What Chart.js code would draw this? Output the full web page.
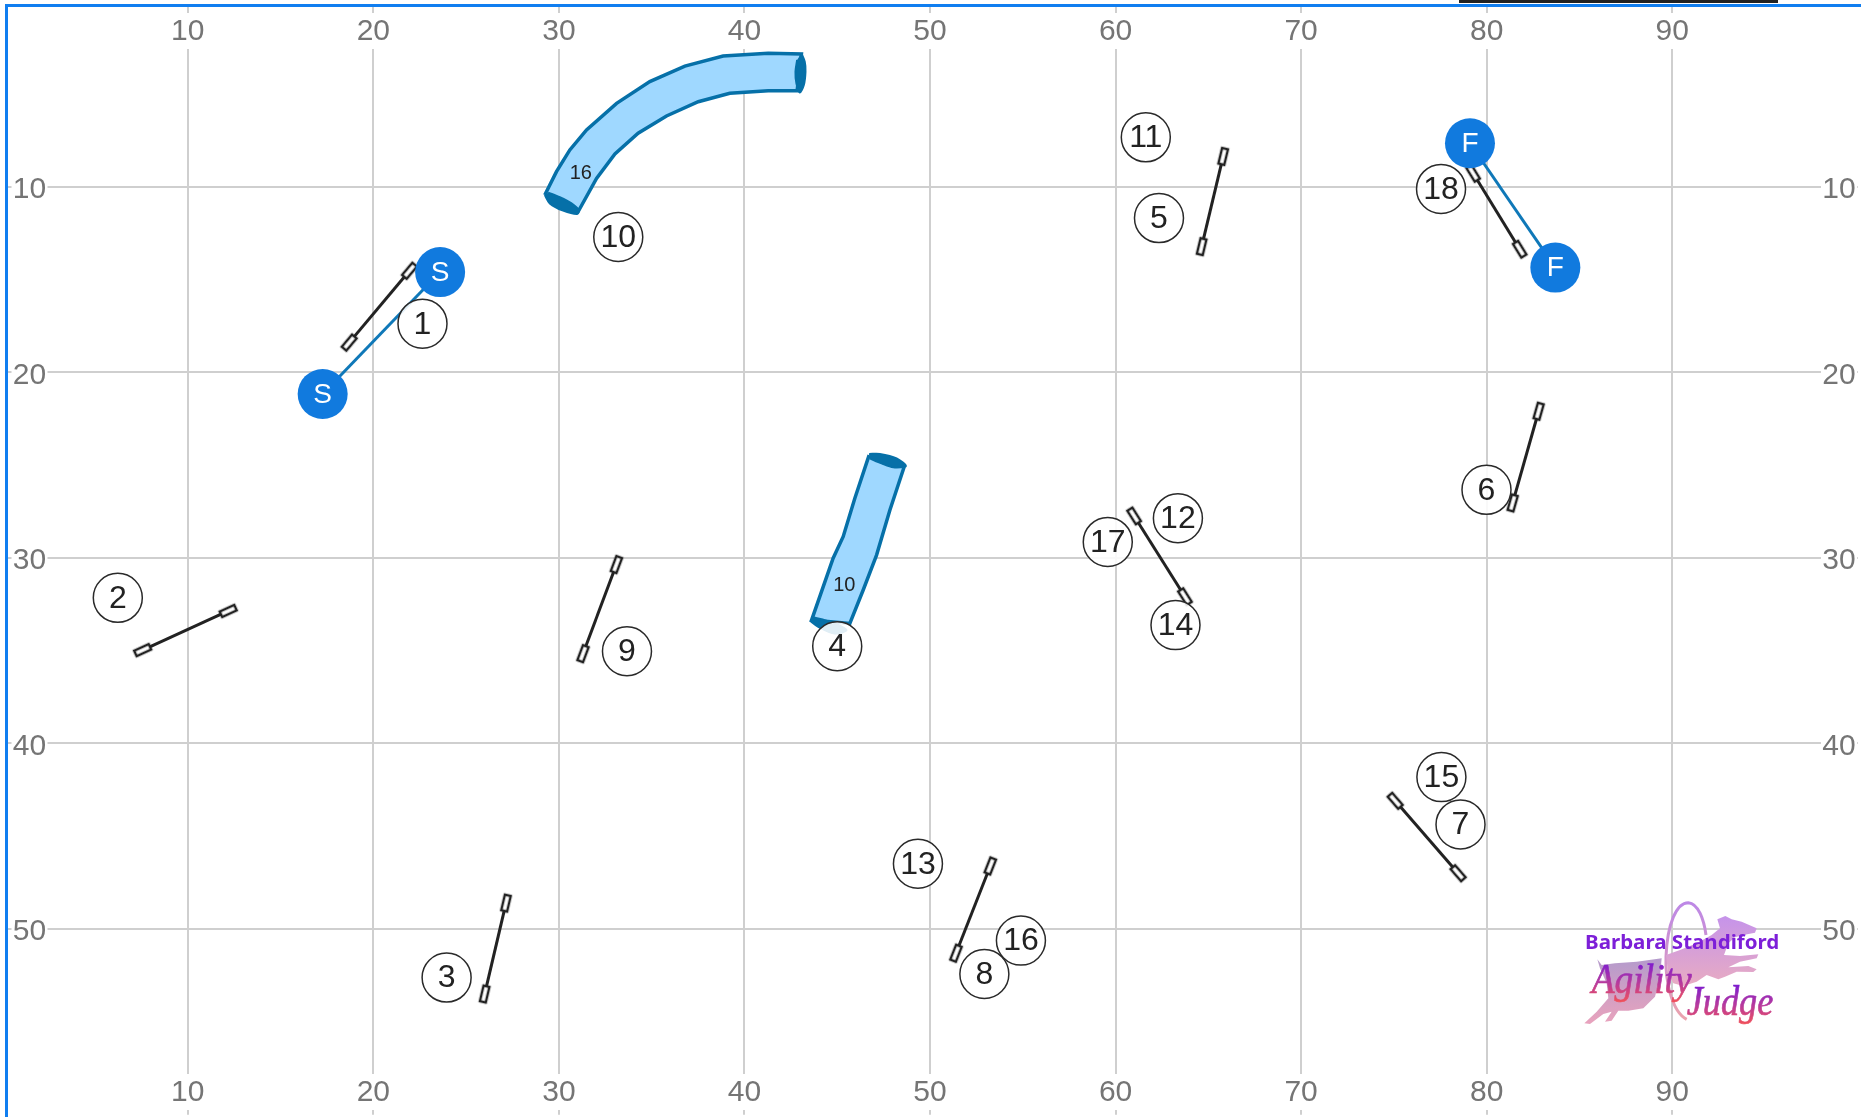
<!DOCTYPE html>
<html>
<head>
<meta charset="utf-8">
<title>Course map</title>
<script src="https://cdn.jsdelivr.net/npm/chart.js@4/dist/chart.umd.js"></script>
<style>
  html, body { margin: 0; padding: 0; background: #fff; width: 1861px; height: 1117px; overflow: hidden; }
  #frame { position: absolute; left: 5px; top: 4px; width: 1853px; height: 1112px; border: solid #107ef0; border-width: 3px 3px 0 3px; border-bottom: 1px solid #e8f2fd; overflow: hidden; }
  #frame canvas { position: absolute; left: -8px; top: -7px; }
  #topbar { position: absolute; left: 1459px; top: 0; width: 319px; height: 3px; background: #222; }
  #logo { position: absolute; left: 1540px; top: 880px; width: 321px; height: 237px; pointer-events: none; }
</style>
</head>
<body>
<div id="frame"><canvas id="course" width="1861" height="1117"></canvas></div>
<div id="topbar"></div>
<svg id="logo" viewBox="0 0 963 711">
  <defs>
    <linearGradient id="dogFront" x1="0" y1="0" x2="0" y2="1"><stop offset="0" stop-color="#c593ea"/><stop offset="1" stop-color="#e8acc2"/></linearGradient>
    <linearGradient id="dogRear" x1="0" y1="0" x2="0" y2="1"><stop offset="0" stop-color="#b49bcc"/><stop offset="1" stop-color="#e9a3bd"/></linearGradient>
    <linearGradient id="hoop" gradientUnits="userSpaceOnUse" x1="0" y1="68" x2="0" y2="418"><stop offset="0" stop-color="#bd88e6"/><stop offset="1" stop-color="#eba3ad"/></linearGradient>
    <linearGradient id="script" x1="0" y1="0" x2="0" y2="1"><stop offset="0" stop-color="#6a12e0"/><stop offset="0.6" stop-color="#b83a9c"/><stop offset="1" stop-color="#f0505a"/></linearGradient>
  </defs>
  <path d="M440,418 C395,395 375,300 378,230 C382,130 410,68 445,68 C475,70 492,120 498,165" fill="none" stroke="url(#hoop)" stroke-width="9"/>
  <path d="M532,118 L556,108 L575,118 L605,125 L650,145 L645,158 L610,165 L585,172 L565,190 L552,225 L600,228 L655,223 L650,235 L600,245 L565,262 L625,258 L650,268 L640,276 L590,275 L555,290 L535,298 L500,285 L470,305 L430,318 L400,310 L385,285 L378,225 L420,210 L470,190 L515,165 L540,145 Z" fill="url(#dogFront)"/>
  <path d="M172,238 L185,255 L225,250 L290,245 L365,235 L360,290 L345,350 L310,385 L265,392 L235,392 L215,422 L195,425 L215,395 L190,402 L150,432 L133,430 L170,395 L205,355 L200,310 L180,265 Z" fill="url(#dogRear)"/>
  <text x="135" y="208" font-family="'Noto Sans'" font-weight="700" font-size="60" fill="#7d1fd8" textLength="583" lengthAdjust="spacingAndGlyphs">Barbara Standiford</text>
  <text x="155" y="338" font-family="'Liberation Serif'" font-style="italic" font-size="125" stroke="url(#script)" stroke-width="2" fill="url(#script)" textLength="300" lengthAdjust="spacingAndGlyphs">Agility</text>
  <text x="440" y="405" font-family="'Liberation Serif'" font-style="italic" font-size="125" stroke="url(#script)" stroke-width="2" fill="url(#script)" textLength="260" lengthAdjust="spacingAndGlyphs">Judge</text>
</svg>
<script>
// tick labels
const xTicks = [10, 20, 30, 40, 50, 60, 70, 80, 90];
const yTicks = [10, 20, 30, 40, 50];

// jumps (start and end of each bar)
const jumpStartX = [18.7, 7.57, 26.0, 64.64, 81.4, 78.46, 51.4, 31.3, 61.0, 79.27];
const jumpStartY = [18.4, 34.97, 53.5, 13.23, 27.04, 46.99, 51.3, 35.16, 27.74, 9.28];
const jumpEndX = [21.95, 12.18, 27.15, 65.8, 82.8, 75.07, 53.25, 33.1, 63.74, 81.78];
const jumpEndY = [14.53, 32.86, 48.6, 8.37, 22.1, 43.09, 46.6, 30.36, 32.09, 13.37];

// start and finish markers
const startX = [23.6, 17.27];
const startY = [14.6, 21.17];
const finishX = [79.1, 83.7];
const finishY = [7.66, 14.36];

// numbered badges
const badgeLabels = ['1', '2', '3', '4', '5', '6', '7', '8', '9', '10', '11', '12', '13', '14', '15', '16', '17', '18'];
const badgeX = [22.65, 6.23, 23.95, 45.0, 62.34, 79.99, 78.59, 52.93, 33.67, 33.2, 61.63, 63.36, 49.35, 63.23, 77.56, 54.9, 59.58, 77.54];
const badgeY = [17.38, 32.15, 52.61, 34.76, 11.69, 26.33, 44.36, 52.42, 35.03, 12.71, 7.34, 27.86, 46.48, 33.62, 41.81, 50.62, 29.14, 10.12];

// curved tunnel outline
const tunnelAX = [29.24, 29.87, 30.59, 31.49, 33.11, 34.9, 36.79, 38.85, 41.28, 43.07, 42.84, 41.28, 39.21, 37.51, 35.8, 34.27, 33.02, 32.03, 30.99];
const tunnelAY = [10.45, 9.19, 8.02, 6.94, 5.51, 4.34, 3.5, 2.96, 2.81, 2.85, 4.83, 4.83, 4.97, 5.42, 6.19, 7.12, 8.24, 9.55, 11.43];
const tunnelAEndX = [43.07, 43.25, 43.29, 43.2, 42.98, 42.8, 42.75, 42.84];
const tunnelAEndY = [2.81, 3.26, 3.8, 4.52, 4.93, 4.43, 3.8, 3.17];
const tunnelAMouthX = [29.24, 29.51, 30.23, 30.99, 31.06, 30.68, 30.05, 29.42];
const tunnelAMouthY = [10.45, 10.9, 11.29, 11.47, 11.25, 10.9, 10.57, 10.32];

// straight tunnel outline
const tunnelBX = [46.72, 45.95, 45.32, 44.78, 43.62, 45.68, 46.4, 47.12, 47.84, 48.61];
const tunnelBY = [24.46, 26.79, 28.86, 30.02, 33.35, 33.53, 31.73, 29.85, 27.42, 25.09];
const tunnelBEndX = [46.72, 47.3, 48.2, 48.7, 48.02, 47.39, 46.76];
const tunnelBEndY = [24.4, 24.4, 24.64, 25.05, 25.12, 24.91, 24.64];
const tunnelBMouthX = [43.53, 43.98, 44.87, 45.5, 44.87, 44.15, 43.71];
const tunnelBMouthY = [33.38, 33.71, 34.07, 33.89, 33.53, 33.31, 33.2];

// tunnel length labels
const tunnelLabels = ['16', '10'];
const tunnelLabelX = [31.18, 45.38];
const tunnelLabelY = [9.27, 31.5];

const pts = (xs, ys) => xs.map((x, i) => ({ x: x, y: ys[i] }));

// little white wing at the end of a jump bar
function makeCap() {
  const c = document.createElement('canvas');
  c.width = 26;
  c.height = 26;
  const g = c.getContext('2d');
  g.fillStyle = '#fff';
  g.strokeStyle = '#222';
  g.lineWidth = 2.5;
  g.fillRect(5, 10, 16, 6);
  g.strokeRect(5, 10, 16, 6);
  return c;
}
const cap = makeCap();

function tunnelSet(xs, ys) {
  return { data: pts(xs, ys), showLine: true, fill: 'shape', backgroundColor: '#9fd8ff', borderColor: '#0670a8', borderWidth: 3.5, pointRadius: 0 };
}
function tunnelEndSet(xs, ys) {
  return { data: pts(xs, ys), showLine: true, fill: 'shape', tension: 0.3, backgroundColor: '#0670a8', borderColor: '#0670a8', borderWidth: 2, pointRadius: 0 };
}
function markerSet(xs, ys) {
  return { data: pts(xs, ys), showLine: true, borderColor: '#0f78b8', borderWidth: 3, pointRadius: 25, pointBackgroundColor: '#117ade', pointBorderColor: '#117ade', pointBorderWidth: 0 };
}

const jumpSets = jumpStartX.map((x, i) => {
  const angle = Math.atan2(jumpEndY[i] - jumpStartY[i], jumpEndX[i] - x) * 180 / Math.PI;
  return {
    data: [{ x: x, y: jumpStartY[i] }, { x: jumpEndX[i], y: jumpEndY[i] }],
    showLine: true,
    borderColor: '#222',
    borderWidth: 3,
    pointStyle: cap,
    pointRadius: 10,
    pointRotation: angle,
  };
});

// first dataset ends up on top
const datasets = [
  { data: pts(badgeX, badgeY), pointRadius: 24.5, pointBackgroundColor: 'rgba(255,255,255,0.88)', pointBorderColor: '#2a2a2a', pointBorderWidth: 1.5, showLine: false },
  markerSet(startX, startY),
  markerSet(finishX, finishY),
  ...jumpSets,
  tunnelEndSet(tunnelAEndX, tunnelAEndY),
  tunnelEndSet(tunnelAMouthX, tunnelAMouthY),
  tunnelSet(tunnelAX, tunnelAY),
  tunnelEndSet(tunnelBEndX, tunnelBEndY),
  tunnelEndSet(tunnelBMouthX, tunnelBMouthY),
  tunnelSet(tunnelBX, tunnelBY),
];

// axis numbers sit inside the plot on all four sides, over a white patch
const insideTicks = {
  id: 'insideTicks',
  beforeDatasetsDraw(chart) {
    const ctx = chart.ctx;
    const sx = chart.scales.x;
    const sy = chart.scales.y;
    ctx.save();
    ctx.font = '30px "Liberation Sans"';
    ctx.textAlign = 'center';
    ctx.textBaseline = 'middle';
    const put = (text, x, y) => {
      ctx.fillStyle = '#fff';
      ctx.fillRect(x - 18, y - 18, 36, 36);
      ctx.fillStyle = '#757575';
      ctx.fillText(text, x, y + 1);
    };
    sx.ticks.forEach((t) => {
      const x = sx.getPixelForValue(t.value);
      put(t.label, x, 31);
      put(t.label, x, 1092);
    });
    sy.ticks.forEach((t) => {
      const y = sy.getPixelForValue(t.value) + 2;
      put(t.label, 29.5, y);
      put(t.label, 1839, y);
    });
    ctx.restore();
  },
};

// numbers and letters on top of the marks
const courseText = {
  id: 'courseText',
  afterDatasetsDraw(chart) {
    const ctx = chart.ctx;
    const sx = chart.scales.x;
    const sy = chart.scales.y;
    ctx.save();
    ctx.textAlign = 'center';
    ctx.textBaseline = 'middle';
    ctx.fillStyle = '#222';
    ctx.font = '20px "Liberation Sans"';
    tunnelLabels.forEach((t, i) => {
      ctx.fillText(t, sx.getPixelForValue(tunnelLabelX[i]), sy.getPixelForValue(tunnelLabelY[i]));
    });
    ctx.font = '32px "Liberation Sans"';
    badgeLabels.forEach((t, i) => {
      ctx.fillText(t, sx.getPixelForValue(badgeX[i]), sy.getPixelForValue(badgeY[i]) + 1);
    });
    ctx.fillStyle = '#fff';
    ctx.font = '28px "Liberation Sans"';
    startX.forEach((x, i) => ctx.fillText('S', sx.getPixelForValue(x), sy.getPixelForValue(startY[i]) + 1));
    finishX.forEach((x, i) => ctx.fillText('F', sx.getPixelForValue(x), sy.getPixelForValue(finishY[i]) + 1));
    ctx.restore();
  },
};

// axes take no room, the numbers are drawn by insideTicks
function noRoom(s) {
  if (s.isHorizontal()) s.height = 0;
  else s.width = 0;
  s.paddingLeft = 0;
  s.paddingRight = 0;
  s.paddingTop = 0;
  s.paddingBottom = 0;
}
const useTicks = (list) => (s) => { s.ticks = list.map((v) => ({ value: v, label: String(v) })); };

function axisOpts(min, max, list, position) {
  return {
    type: 'linear',
    min: min,
    max: max,
    position: position,
    afterBuildTicks: useTicks(list),
    afterFit: noRoom,
    border: { display: false },
    grid: { color: '#cfcfcf', lineWidth: 2, drawTicks: false },
    ticks: { display: false },
  };
}

new Chart(document.getElementById('course'), {
  type: 'scatter',
  data: { datasets: datasets },
  options: {
    responsive: false,
    animation: false,
    devicePixelRatio: 1,
    layout: { autoPadding: false, padding: { left: 2.2, top: 1.1, right: 3.2, bottom: 2.3 } },
    plugins: { legend: { display: false }, tooltip: { enabled: false } },
    scales: {
      x: axisOpts(0, 100, xTicks, 'top'),
      y: Object.assign(axisOpts(0, 60, yTicks, 'left'), { reverse: true }),
    },
  },
  plugins: [insideTicks, courseText],
});
</script>
</body>
</html>
